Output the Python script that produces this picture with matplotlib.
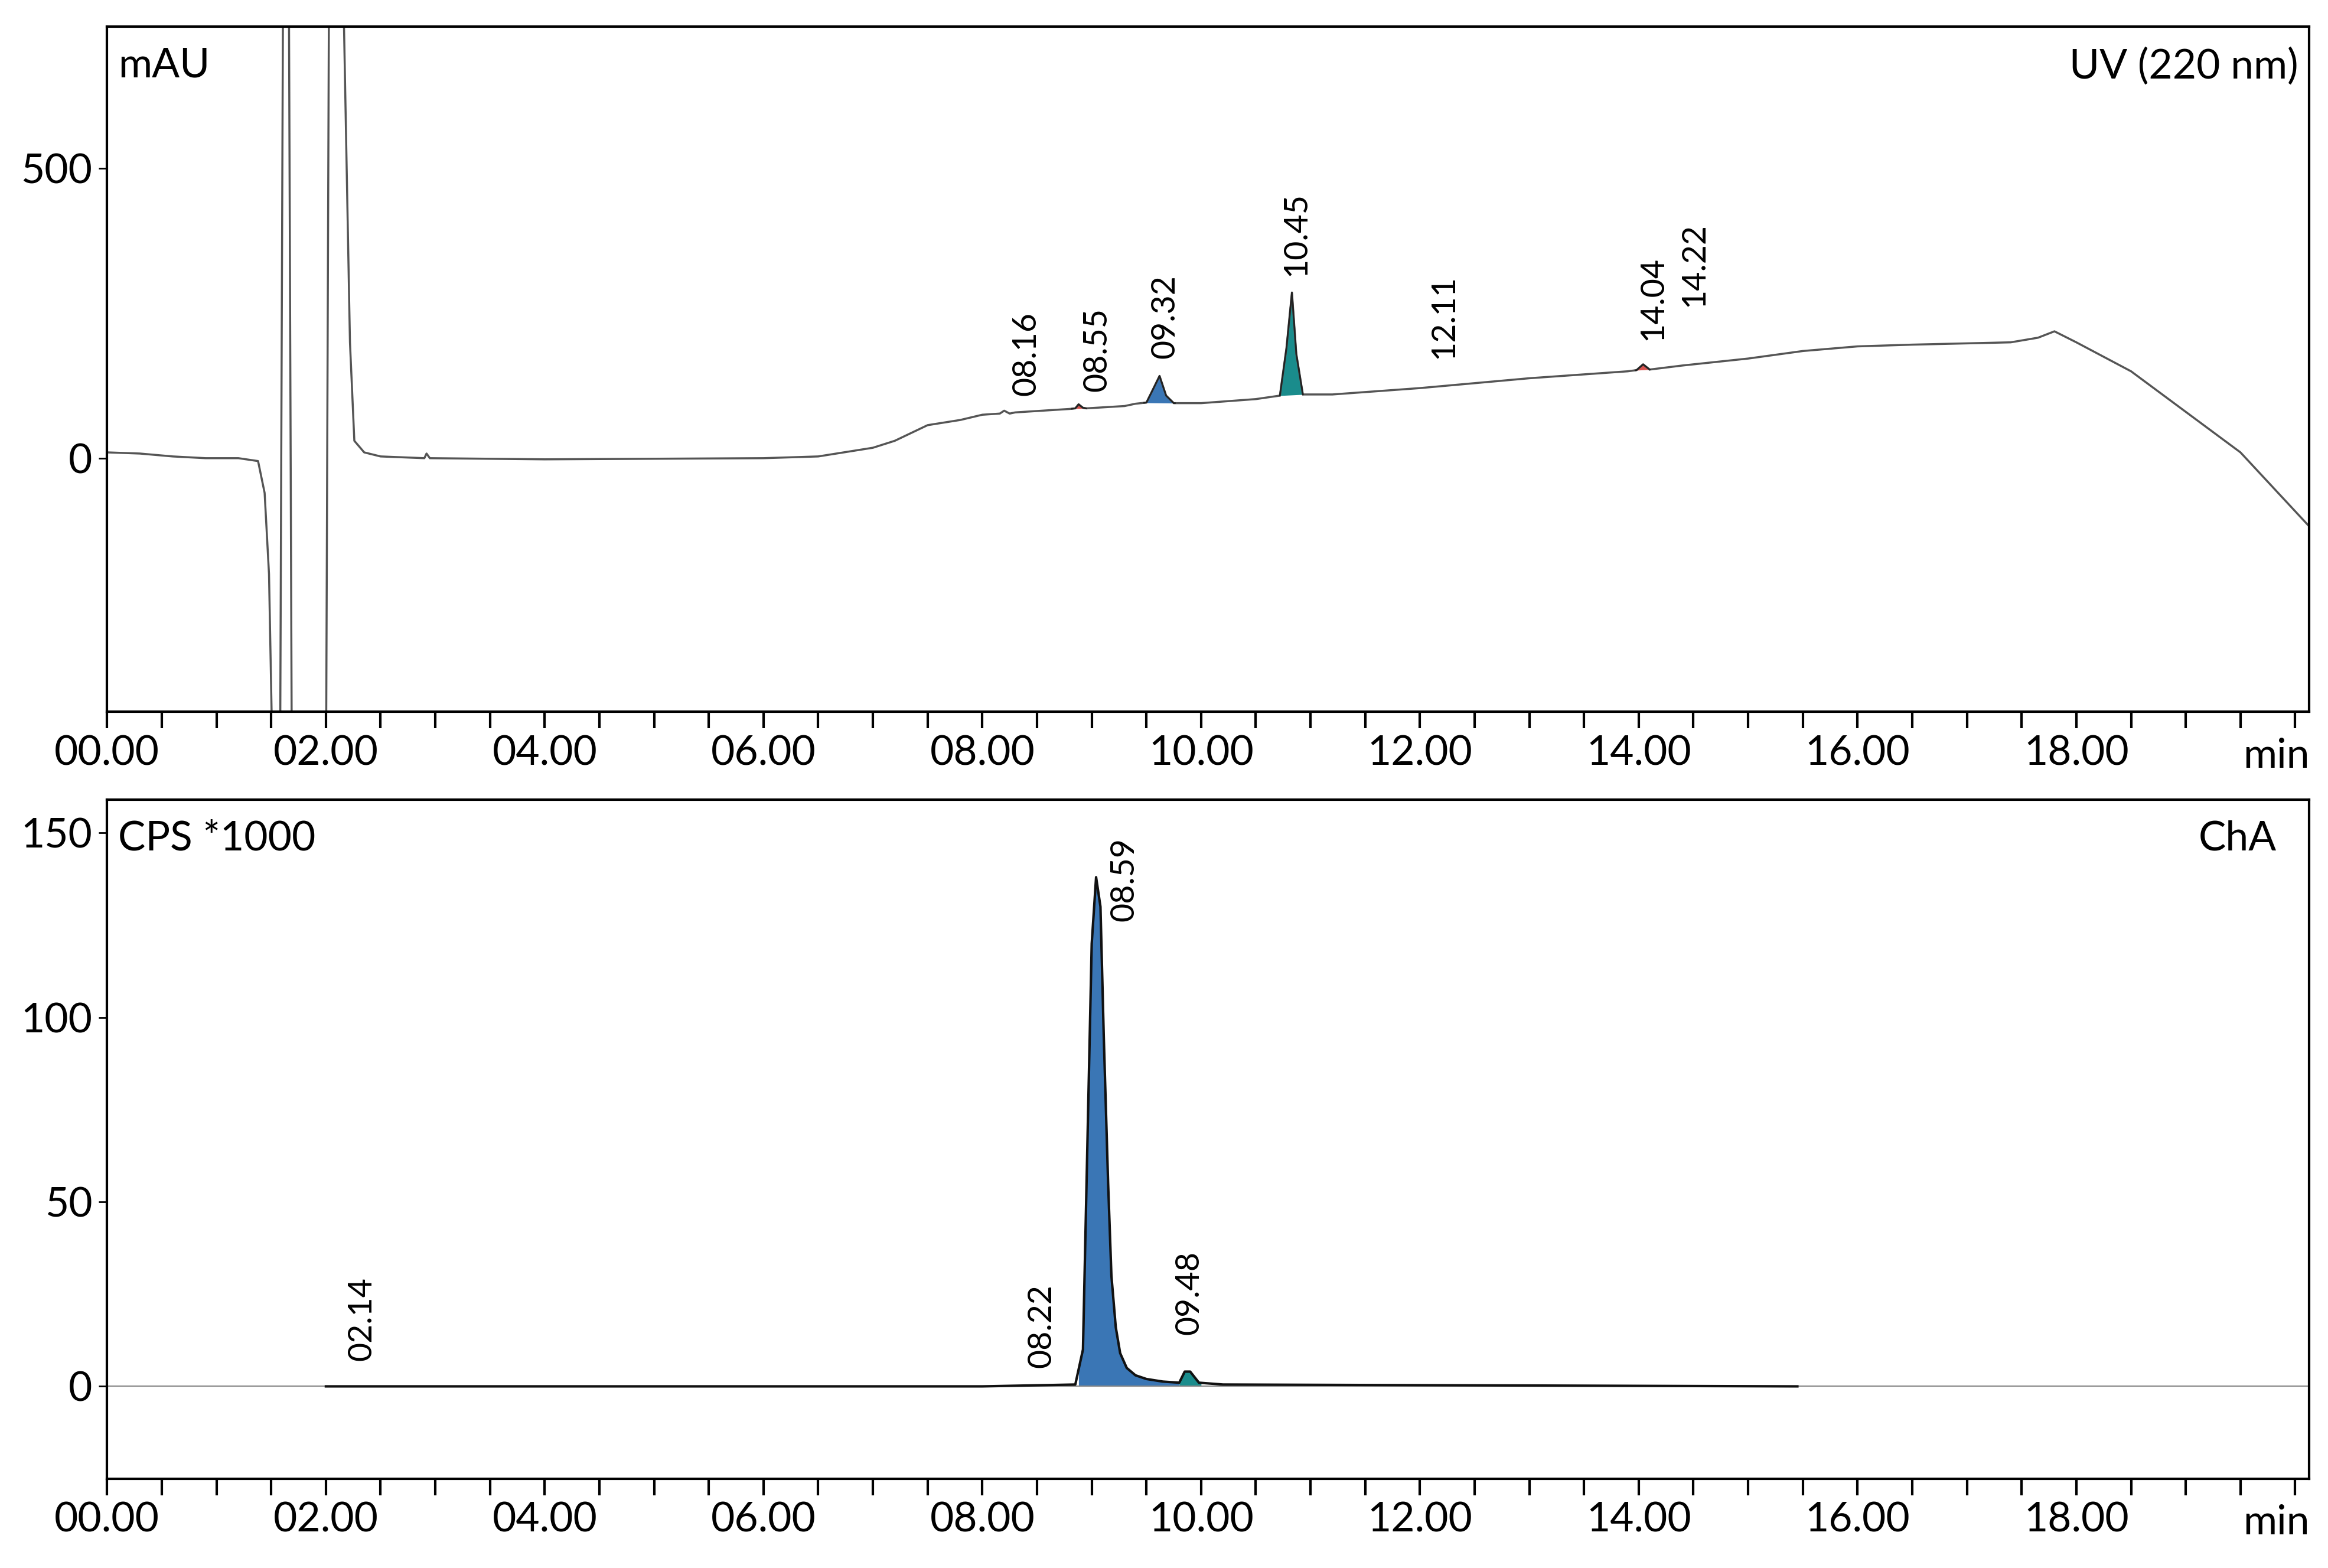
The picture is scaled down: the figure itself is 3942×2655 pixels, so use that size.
import matplotlib
matplotlib.use("Agg")
import matplotlib.pyplot as plt
import numpy as np

plt.rcParams['font.family'] = ['Lato', 'DejaVu Sans']

# ---- UV trace (time min, mAU) ----
uv_t = [0, 0.3, 0.6, 0.9, 1.2, 1.38, 1.44, 1.48, 1.52, 1.58, 1.61, 1.66, 1.69, 2.00, 2.03, 2.15, 2.22, 2.26, 2.35, 2.5, 2.9, 2.92, 2.95,
        4.0, 6.0, 6.5, 7.0, 7.2, 7.5, 7.8, 8.0, 8.16, 8.2, 8.25, 8.3, 8.8, 8.85, 8.88, 8.92, 8.95, 9.3, 9.4, 9.5, 9.55, 9.62, 9.68, 9.75,
        10.0, 10.5, 10.72, 10.78, 10.83, 10.87, 10.93, 11.2, 12.0, 13.0, 13.9, 13.98, 14.04, 14.1, 14.4, 15.0, 15.5, 16.0, 16.5,
        17.4, 17.65, 17.8, 18.0, 18.5, 19.0, 19.5, 20.13]
uv_v = [10, 8, 3, 0, 0, -5, -60, -200, -600, -600, 900, 900, -600, -600, 900, 900, 200, 30, 10, 3, 0, 8, 0,
        -2, 0, 3, 18, 30, 57, 66, 75, 77, 82, 77, 79, 85, 86, 93, 87, 86, 90, 94, 96, 115, 142, 108, 95,
        95, 102, 108, 190, 286, 180, 110, 110, 121, 138, 150, 152, 162, 153, 160, 172, 185, 193, 196,
        200, 208, 219, 200, 150, 80, 10, -118]

# peak fills: (start, end, color)
uv_fills = [(8.82, 8.95, '#d9534f'), (9.48, 9.76, '#3a76b5'), (10.72, 10.93, '#1a8c8c'), (13.97, 14.1, '#d9534f')]
uv_labels = ['08.16', '08.55', '09.32', '10.45', '12.11', '14.04', '14.22']
uv_label_t = [8.40, 9.05, 9.67, 10.87, 12.22, 14.13, 14.51]
uv_label_v = [108, 115, 172, 315, 172, 204, 262]

# ---- MS trace (time min, CPS*1000) ----
ms_t = [2.0, 8.0, 8.85, 8.92, 9.0, 9.04, 9.08, 9.11, 9.15, 9.18, 9.22, 9.26, 9.32, 9.4, 9.5, 9.65, 9.8, 9.85, 9.9, 9.98, 10.2, 15.45]
ms_v = [0, 0, 0.5, 10, 120, 138, 130, 95, 55, 30, 16, 9, 5, 3, 2, 1.3, 1, 4, 4, 1, 0.5, 0]
ms_fills = [(8.88, 9.8, '#3a76b5'), (9.8, 10.0, '#1a8c8c')]
ms_labels = ['02.14', '08.22', '08.59', '09.48']
ms_label_t = [2.33, 8.54, 9.30, 9.89]
ms_label_v = [7, 5, 126, 14]

xticks = np.arange(0, 20, 2)
xticklabels = ['%05.2f' % v for v in xticks]

fig = plt.figure(figsize=(39.42, 26.55), dpi=100)
ax1 = fig.add_axes([0.046, 0.546, 0.946, 0.437])
ax2 = fig.add_axes([0.046, 0.057, 0.946, 0.433])

FS = 50
LFS = 40

def style(ax, ylim, yticks):
    ax.set_xlim(0, 20.13)
    ax.set_ylim(*ylim)
    ax.set_xticks(xticks)
    ax.set_xticklabels(xticklabels, fontsize=FS)
    ax.set_xticks(np.arange(0, 20.1, 0.5), minor=True)
    ax.set_yticks(yticks)
    ax.set_yticklabels([str(y) for y in yticks], fontsize=FS)
    ax.tick_params(axis='x', which='both', length=20, width=3, pad=8)
    ax.tick_params(axis='y', length=10, width=2, pad=8)
    for s in ax.spines.values():
        s.set_linewidth(3)
    ax.text(0.985, -0.065, 'min', transform=ax.transAxes, fontsize=FS, ha='center', va='center')

# top
ut = np.array(uv_t); uvv = np.array(uv_v)
ax1.plot(ut, uvv, color='#555555', lw=2.5)
for a, b, c in uv_fills:
    m = (ut >= a) & (ut <= b)
    tt = np.concatenate([[a], ut[m], [b]])
    vv = np.interp(tt, ut, uvv)
    base = np.interp(tt, [a, b], [vv[0], vv[-1]])
    ax1.fill_between(tt, vv, base, color=c, lw=0)
    ax1.plot(tt, vv, color='#222222', lw=2)
for s, t, v in zip(uv_labels, uv_label_t, uv_label_v):
    ax1.text(t, v, s, rotation=90, ha='center', va='bottom', fontsize=LFS)
style(ax1, (-438, 745), [0, 500])
ax1.text(0.005, 0.97, 'mAU', transform=ax1.transAxes, fontsize=FS, ha='left', va='top')
ax1.text(0.995, 0.97, 'UV (220 nm)', transform=ax1.transAxes, fontsize=FS, ha='right', va='top')

# bottom
mt = np.array(ms_t); mv = np.array(ms_v)
ax2.axhline(0, color='#888888', lw=1.5)
for a, b, c in ms_fills:
    tt = np.linspace(a, b, 200)
    vv = np.interp(tt, mt, mv)
    ax2.fill_between(tt, vv, 0, color=c, lw=0)
ax2.plot(mt, mv, color='#111111', lw=3)
for s, t, v in zip(ms_labels, ms_label_t, ms_label_v):
    ax2.text(t, v, s, rotation=90, ha='center', va='bottom', fontsize=LFS)
style(ax2, (-25, 159), [0, 50, 100, 150])
ax2.text(0.005, 0.97, 'CPS *1000', transform=ax2.transAxes, fontsize=FS, ha='left', va='top')
ax2.text(0.985, 0.97, 'ChA', transform=ax2.transAxes, fontsize=FS, ha='right', va='top')

fig.savefig('out.png', dpi=100)
